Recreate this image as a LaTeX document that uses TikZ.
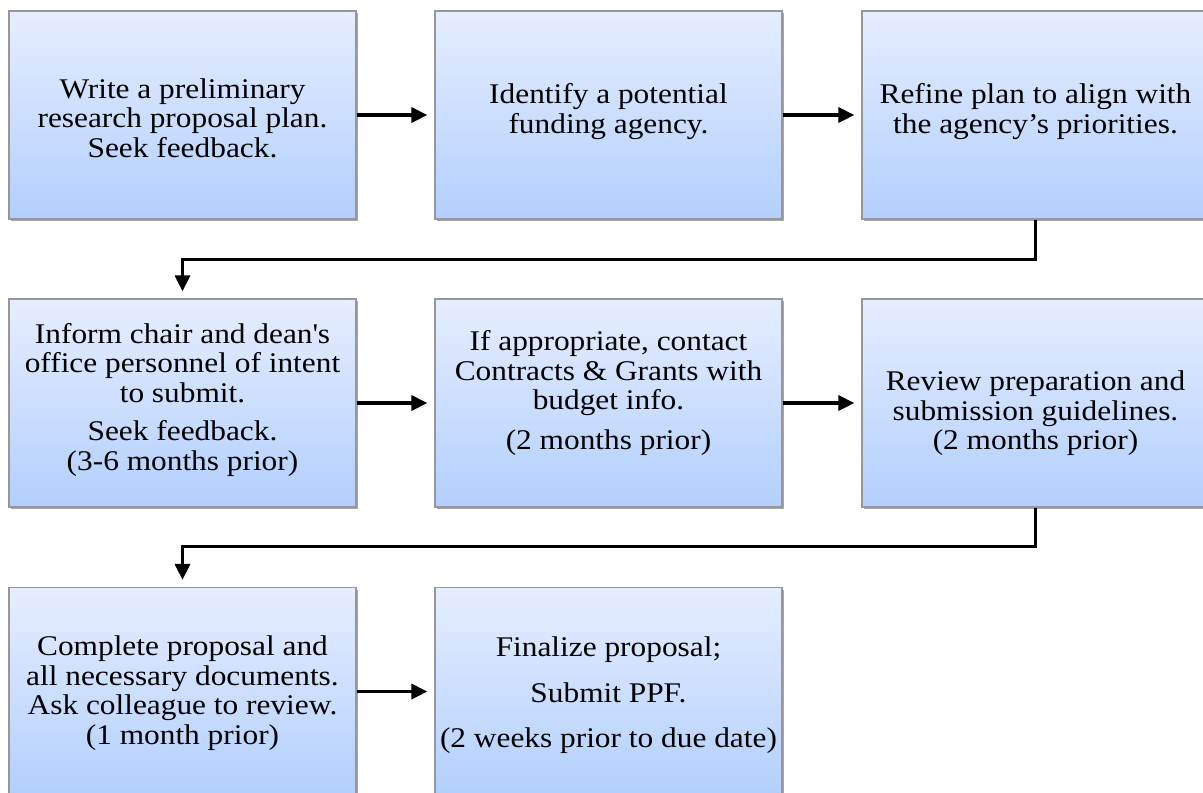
\documentclass[tikz,border=0pt]{standalone}
\usepackage{fontspec}
\setmainfont[FakeStretch=1.1]{Liberation Serif}
\usetikzlibrary{shadows,arrows.meta}
\definecolor{boxtop}{RGB}{230,238,254}
\definecolor{boxbot}{RGB}{178,207,253}
\definecolor{boxline}{RGB}{150,150,155}
\begin{document}
\begin{tikzpicture}[x=1pt,y=-1pt,
  stepbox/.style={draw=boxline, line width=1.2pt, top color=boxtop, bottom color=boxbot,
    minimum width=347pt, minimum height=208pt, inner sep=0pt,
    drop shadow={shadow xshift=2pt,shadow yshift=-2pt,opacity=0.35,fill=black}},
  txt/.style={align=center, font=\fontsize{28.5}{29.5}\selectfont, inner sep=0pt},
  arr/.style={line width=3.1pt, -{Triangle[length=16pt,width=15pt]}, shorten >=7pt}
]
\useasboundingbox (0,0) rectangle (1203,793);
\clip (0,0) rectangle (1203,793);
\fill[white] (0,0) rectangle (1203,793);

% row 1
\node[stepbox] (b1) at (182.5,115) {};
\node[stepbox] (b2) at (608.5,115) {};
\node[stepbox] (b3) at (1035.5,115) {};
% row 2
\node[stepbox] (b4) at (182.5,403) {};
\node[stepbox] (b5) at (608.5,403) {};
\node[stepbox] (b6) at (1035.5,403) {};
% row 3
\node[stepbox] (b7) at (182.5,691.5) {};
\node[stepbox] (b8) at (608.5,691.5) {};

\node[txt] (t1) at (182.5,118) {Write a preliminary\\research proposal plan.\\Seek feedback.};
\node[txt] (t2) at (608.5,111.5) {Identify a potential\\funding agency.};
\node[txt] (t3) at (1035.5,111.5) {Refine plan to align with\\the agency’s priorities.};
\node[txt] (t4) at (182.5,399.5) {Inform chair and dean\textquotesingle s\\office personnel of intent\\to submit.\\[9pt]Seek feedback.\\(3-6 months prior)};
\node[txt] (t5) at (608.5,393) {If appropriate, contact\\Contracts \& Grants with\\budget info.\\[10pt](2 months prior)};
\node[txt] (t6) at (1035.5,413.5) {Review preparation and\\submission guidelines.\\(2 months prior)};
\node[txt] (t7) at (182.5,693) {Complete proposal and\\all necessary documents.\\Ask colleague to review.\\(1 month prior)};
\node[txt] (t8) at (608.5,695.5) {Finalize proposal;\\[16pt]Submit PPF.\\[16pt](2 weeks prior to due date)};

\draw[arr] (b1) -- (b2);
\draw[arr] (b2) -- (b3);
\draw[arr] (b3.south) -- ++(0,40) -| (b4.north);
\draw[arr] (b4) -- (b5);
\draw[arr] (b5) -- (b6);
\draw[arr] (b6.south) -- ++(0,39) -| (b7.north);
\draw[arr] (b7) -- (b8);
\end{tikzpicture}
\end{document}
